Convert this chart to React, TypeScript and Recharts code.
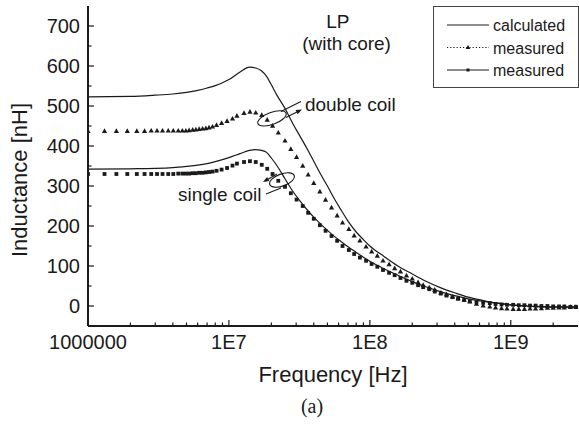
import React from "react";
import { LineChart, Line, XAxis, YAxis, Legend, ReferenceDot } from "recharts";

// calculated curves (solid lines)
const calcFreq = [
  1e6, 2e6, 3e6, 4e6, 5e6, 6e6, 7e6, 8e6, 9e6, 1e7, 1.2e7, 1.4e7, 1.55e7, 1.7e7, 1.85e7, 2e7, 2.2e7, 2.5e7,
  2.8e7, 3.2e7, 3.6e7, 4e7, 4.5e7, 5e7, 5.6e7, 6.3e7, 7e7, 8e7, 9e7, 1e8, 1.26e8, 1.58e8, 2e8, 2.5e8,
  3.16e8, 4e8, 5e8, 6.3e8, 8e8, 1e9, 1.3e9, 1.6e9, 2e9, 3e9,
];
const calcDouble = [
  523, 524, 527, 530, 534, 539, 545, 551, 558, 566, 585, 597, 595, 588, 574, 553, 526, 494,
  460, 424, 392, 362, 328, 300, 268, 238, 212, 185, 166, 150, 124, 100, 80, 62,
  46, 33, 22, 14, 7, 3, 0, -2, -3, -3,
];
const calcSingle = [
  342, 343, 344, 346, 349, 352, 356, 361, 366, 371, 381, 389, 391, 389, 384, 370, 350, 318,
  290, 262, 240, 222, 204, 189, 174, 160, 148, 134, 122, 112, 93, 77, 61, 48,
  36, 26, 18, 12, 7, 3, 0, -1, -2, -2,
];

// measured points (triangles = double coil, squares = single coil)
const measFreq = [
  1e6, 1.31e6, 1.59e6, 1.9e6, 2.22e6, 2.52e6, 2.81e6, 3.09e6, 3.38e6, 3.71e6, 4.03e6, 4.37e6, 4.67e6, 4.95e6,
  5.22e6, 5.53e6, 5.83e6, 6.15e6, 6.5e6, 6.86e6, 7.23e6, 7.65e6, 8.17e6, 8.87e6, 9.7e6, 1.06e7, 1.14e7,
  1.28e7, 1.41e7, 1.55e7, 1.71e7, 1.87e7, 2.04e7, 2.24e7, 2.5e7, 2.75e7, 3.02e7, 3.34e7, 3.65e7, 4e7,
  4.42e7, 4.85e7, 5.35e7, 5.86e7, 6.4e7, 7.1e7, 7.74e7, 8.5e7, 9.4e7, 1.03e8, 1.13e8, 1.24e8, 1.37e8,
  1.5e8, 1.65e8, 1.82e8, 2e8, 2.2e8, 2.39e8, 2.64e8, 2.89e8, 3.19e8, 3.5e8, 3.86e8, 4.23e8, 4.67e8,
  5.12e8, 5.71e8, 6.37e8, 7.1e8, 7.8e8, 8.6e8, 9.4e8, 1.04e9, 1.14e9, 1.25e9, 1.37e9, 1.5e9, 1.65e9,
  1.82e9, 2e9, 2.2e9, 2.4e9, 2.65e9, 2.9e9,
];
const measDouble = [
  437, 437, 437, 437, 437, 437, 438, 438, 438, 438, 438, 438, 438, 438,
  439, 440, 441, 442, 443, 444, 446, 448, 452, 457, 462, 468, 475,
  482, 485, 483, 477, 465, 450, 433, 413, 392, 372, 350, 328, 307,
  286, 265, 246, 226, 208, 192, 176, 163, 148, 136, 125, 113, 104,
  94, 86, 76, 68, 59, 52, 46, 40, 33, 29, 23, 19, 15,
  11, 5, 1, -2, -4, -6, -7, -8, -8, -8, -7, -7, -6,
  -5, -5, -4, -4, -3, -3,
];
const measSingle = [
  330, 330, 330, 330, 330, 330, 330, 330, 330, 330, 330, 331, 331, 331,
  331, 332, 332, 333, 333, 334, 335, 336, 338, 341, 345, 351, 356,
  360, 362, 360, 353, 343, 330, 313, 298, 282, 266, 250, 233, 218,
  202, 188, 175, 163, 150, 140, 130, 121, 113, 105, 98, 90, 83,
  77, 70, 63, 58, 52, 47, 42, 36, 31, 26, 22, 18, 15,
  12, 10, 8, 7, 5, 4, 3, 3, 2, 2, 1, 1, 0,
  0, -1, -1, -1, -2, -2,
];

const xMajorTicks = [1e6, 1e7, 1e8, 1e9];
const xMajorLabels = ["1000000", "1E7", "1E8", "1E9"];
const xMinorTicks = [
  2e6, 3e6, 4e6, 5e6, 6e6, 7e6, 8e6, 9e6, 2e7, 3e7, 4e7, 5e7, 6e7, 7e7, 8e7, 9e7,
  2e8, 3e8, 4e8, 5e8, 6e8, 7e8, 8e8, 9e8, 2e9,
];
const yMajorTicks = [0, 100, 200, 300, 400, 500, 600, 700];
const yMinorTicks = [50, 150, 250, 350, 450, 550, 650];

const notes = [
  { f: 5.93e7, v: 695, text: "LP" },
  { f: 6.84e7, v: 640, text: "(with core)" },
];
const curveLabels = [
  { f: 3.46e7, v: 488, text: "double coil" },
  { f: 4.35e6, v: 262, text: "single coil" },
];
const lassoDouble = { f: 2.02e7, v: 469 };
const lassoSingle = { f: 2.38e7, v: 315 };

const FONT = "'Liberation Sans', Arial, Helvetica, sans-serif";
const INK = "#1a1a1a";

const toRows = (xs: number[], ys: number[]) => xs.map((f, i) => ({ freq: f, L: ys[i] }));

function XTick(props: any) {
  const { x, y, payload } = props;
  const i = xMajorTicks.indexOf(payload.value);
  const major = i >= 0;
  return (
    <g>
      <line x1={x} x2={x} y1={y} y2={y - (major ? 6 : 3.5)} stroke={INK} strokeWidth={1.2} />
      {major && (
        <text x={x} y={y + 23} textAnchor="middle" fontSize={20} fontFamily={FONT} fill={INK}>
          {xMajorLabels[i]}
        </text>
      )}
    </g>
  );
}

function YTick(props: any) {
  const { x, y, payload } = props;
  const major = yMajorTicks.includes(payload.value);
  return (
    <g>
      <line x1={x} x2={x + (major ? 6 : 3.5)} y1={y} y2={y} stroke={INK} strokeWidth={1.2} />
      {major && (
        <text x={x - 8} y={y + 7} textAnchor="end" fontSize={20} fontFamily={FONT} fill={INK}>
          {payload.value}
        </text>
      )}
    </g>
  );
}

function triangleDot(p: any) {
  const { cx, cy, index } = p;
  if (cx == null || cy == null) return <g key={`t${index}`} />;
  return (
    <polygon key={`t${index}`} points={`${cx},${cy - 2.9} ${cx + 2.6},${cy + 1.8} ${cx - 2.6},${cy + 1.8}`} fill={INK} />
  );
}

function squareDot(p: any) {
  const { cx, cy, index } = p;
  if (cx == null || cy == null) return <g key={`s${index}`} />;
  return <rect key={`s${index}`} x={cx - 1.9} y={cy - 1.9} width={3.8} height={3.8} fill={INK} />;
}

function arrowHead(x1: number, y1: number, x2: number, y2: number) {
  const a = Math.atan2(y2 - y1, x2 - x1);
  const len = 6;
  const w = 2.3;
  const bx = x2 - len * Math.cos(a);
  const by = y2 - len * Math.sin(a);
  const px = -Math.sin(a) * w;
  const py = Math.cos(a) * w;
  return `${x2},${y2} ${bx + px},${by + py} ${bx - px},${by - py}`;
}

function DoubleLasso(p: any) {
  const { cx, cy } = p;
  return (
    <g stroke={INK} strokeWidth={1.1} fill="none">
      <ellipse cx={cx} cy={cy} rx={15} ry={6} transform={`rotate(-20 ${cx} ${cy})`} />
      <line x1={cx + 9} y1={cy - 7} x2={cx + 29} y2={cy - 17} />
      <line x1={cx + 14} y1={cy - 1} x2={cx + 28} y2={cy - 8} />
      <polygon points={arrowHead(cx + 14, cy - 1, cx + 30, cy - 9)} fill={INK} stroke="none" />
    </g>
  );
}

function SingleLasso(p: any) {
  const { cx, cy } = p;
  return (
    <g stroke={INK} strokeWidth={1.1} fill="none">
      <ellipse cx={cx} cy={cy} rx={13} ry={6} transform={`rotate(-20 ${cx} ${cy})`} />
      <line x1={cx - 5} y1={cy - 6} x2={cx - 17} y2={cy + 1} />
      <polygon points={arrowHead(cx - 5, cy - 6, cx - 19, cy + 2)} fill={INK} stroke="none" />
      <line x1={cx - 16} y1={cy + 14} x2={cx - 1} y2={cy + 8} />
    </g>
  );
}

const textShape = (text: string, anchor: "start" | "middle") => (p: any) => (
  <text x={p.cx} y={p.cy} textAnchor={anchor} fontSize={19} fontFamily={FONT} fill={INK}>
    {text}
  </text>
);

function LegendBox(props: any) {
  const payload = ((props.payload || []) as any[]).filter((e) => e.type !== "none");
  const rowY = [19, 41.5, 64];
  return (
    <svg width={146} height={82} style={{ display: "block" }}>
      <rect x={0.5} y={0.5} width={145} height={81} fill="#fff" stroke="#444" strokeWidth={1} />
      {payload.map((entry, i) => {
        const y = rowY[i];
        return (
          <g key={i}>
            {i === 1 ? (
              <line x1={14} x2={56} y1={y} y2={y} stroke={INK} strokeWidth={1} strokeDasharray="1.2 2" />
            ) : (
              <line x1={14} x2={56} y1={y} y2={y} stroke={INK} strokeWidth={1.1} />
            )}
            {i === 1 && <polygon points={`35,${y - 2.6} 37.4,${y + 1.6} 32.6,${y + 1.6}`} fill={INK} />}
            {i === 2 && <rect x={33.5} y={y - 1.5} width={3} height={3} fill={INK} />}
            <text x={60} y={y + 6} fontSize={16} fontFamily={FONT} fill={INK}>
              {entry.value}
            </text>
          </g>
        );
      })}
    </svg>
  );
}

export default function App() {
  return (
    <div style={{ position: "absolute", left: 0, top: 0, width: 579, height: 428, background: "#fff" }}>
      <LineChart width={579} height={428} margin={{ top: 6, right: 1, left: 0, bottom: 32 }}>
        <XAxis
          dataKey="freq"
          type="number"
          scale="log"
          domain={[1e6, 3e9]}
          allowDataOverflow
          ticks={[...xMajorTicks, ...xMinorTicks].sort((a, b) => a - b)}
          interval={0}
          tickSize={0}
          tickMargin={0}
          tickLine={false}
          tick={XTick}
          height={70}
          axisLine={{ stroke: INK, strokeWidth: 2 }}
          label={(p: any) => (
            <text
              x={p.viewBox.x + p.viewBox.width / 2}
              y={p.viewBox.y + 56}
              textAnchor="middle"
              fontSize={22}
              fontFamily={FONT}
              fill={INK}
            >
              Frequency [Hz]
            </text>
          )}
        />
        <YAxis
          type="number"
          domain={[-50, 750]}
          allowDataOverflow
          ticks={[...yMajorTicks, ...yMinorTicks].sort((a, b) => a - b)}
          interval={0}
          tickSize={0}
          tickMargin={0}
          tickLine={false}
          tick={YTick}
          width={88}
          axisLine={{ stroke: INK, strokeWidth: 2 }}
          label={(p: any) => {
            const x = p.viewBox.x + 27;
            const y = p.viewBox.y + p.viewBox.height / 2 + 14;
            return (
              <text
                x={x}
                y={y}
                transform={`rotate(-90 ${x} ${y})`}
                textAnchor="middle"
                fontSize={22}
                fontFamily={FONT}
                fill={INK}
              >
                Inductance [nH]
              </text>
            );
          }}
        />
        <XAxis
          xAxisId="top"
          orientation="top"
          type="number"
          scale="log"
          domain={[1e6, 3e9]}
          height={0}
          tick={false}
          tickLine={false}
          axisLine={{ stroke: INK, strokeWidth: 2 }}
        />
        <YAxis
          yAxisId="right"
          orientation="right"
          type="number"
          domain={[-50, 750]}
          width={0}
          tick={false}
          tickLine={false}
          axisLine={{ stroke: INK, strokeWidth: 2 }}
        />
        <Legend
          layout="vertical"
          align="center"
          verticalAlign="middle"
          content={LegendBox}
          wrapperStyle={{ left: 433, top: 6, width: 146, height: 82 }}
        />
        <Line
          data={toRows(calcFreq, calcDouble)}
          dataKey="L"
          name="calculated"
          type="monotone"
          stroke={INK}
          strokeWidth={1.2}
          dot={false}
          activeDot={false}
          isAnimationActive={false}
        />
        <Line
          data={toRows(calcFreq, calcSingle)}
          dataKey="L"
          name="calculated single"
          legendType="none"
          type="monotone"
          stroke={INK}
          strokeWidth={1.2}
          dot={false}
          activeDot={false}
          isAnimationActive={false}
        />
        <Line
          data={toRows(measFreq, measDouble)}
          dataKey="L"
          name="measured"
          stroke="none"
          dot={triangleDot}
          activeDot={false}
          isAnimationActive={false}
        />
        <Line
          data={toRows(measFreq, measSingle)}
          dataKey="L"
          name="measured"
          stroke="none"
          dot={squareDot}
          activeDot={false}
          isAnimationActive={false}
        />
        <ReferenceDot x={lassoDouble.f} y={lassoDouble.v} r={0} shape={DoubleLasso} />
        <ReferenceDot x={lassoSingle.f} y={lassoSingle.v} r={0} shape={SingleLasso} />
        {notes.map((n) => (
          <ReferenceDot key={n.text} x={n.f} y={n.v} r={0} shape={textShape(n.text, "middle")} />
        ))}
        {curveLabels.map((n) => (
          <ReferenceDot key={n.text} x={n.f} y={n.v} r={0} shape={textShape(n.text, "start")} />
        ))}
      </LineChart>
      <svg width={579} height={428} style={{ position: "absolute", left: 0, top: 0, pointerEvents: "none" }}>
        <text x={312} y={413} textAnchor="middle" fontSize={20} fontFamily="'Liberation Serif', 'Times New Roman', serif" fill={INK}>
          (a)
        </text>
      </svg>
    </div>
  );
}
